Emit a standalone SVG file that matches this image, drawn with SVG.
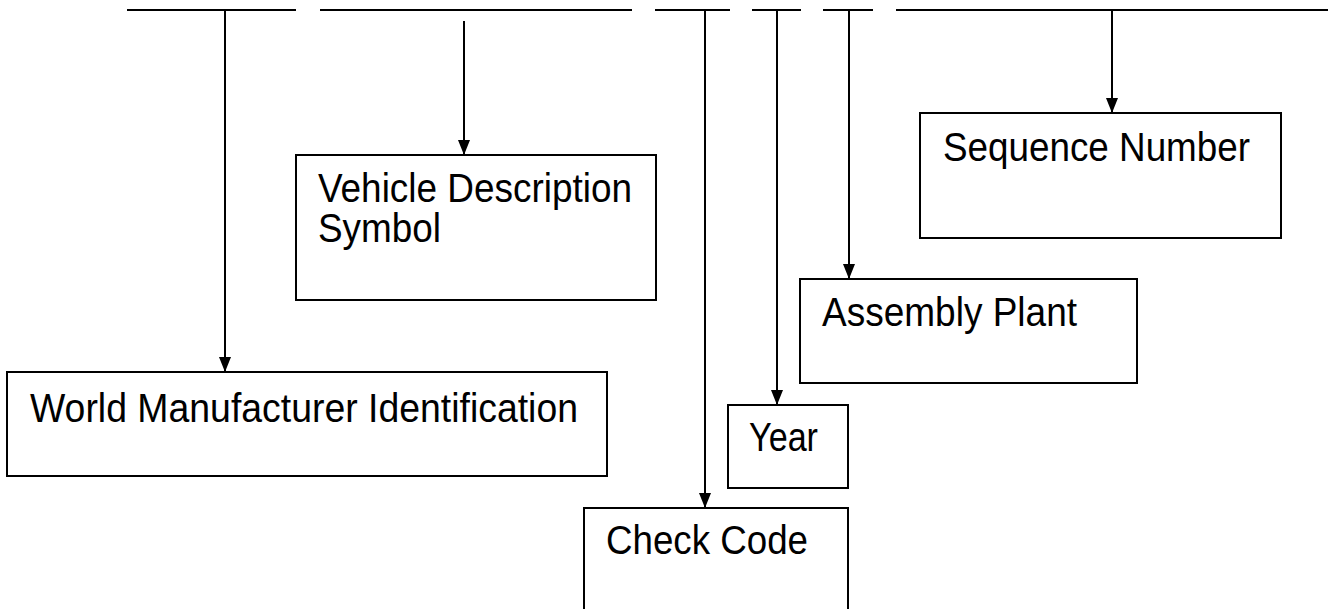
<svg xmlns="http://www.w3.org/2000/svg" width="1328" height="609" viewBox="0 0 1328 609">
<style>
.box{fill:#fff;stroke:#000;stroke-width:2}
.ln{stroke:#000;stroke-width:2;fill:none}
.t{font-family:"Liberation Sans",Arial,sans-serif;font-size:40px;fill:#000}
</style>
<defs>
<marker id="ah" markerWidth="15" markerHeight="12" refX="15" refY="6" orient="auto" markerUnits="userSpaceOnUse" viewBox="0 0 15 12">
<path d="M0,0 L15,6 L0,12 Z" fill="#000"/>
</marker>
</defs>
<rect width="1328" height="609" fill="#fff"/>
<g id="connectors">
<path class="ln" d="M127,10H296M320,10H632M655,10H730M752,10H801M823,10H873M896,10H1328"/>
<line class="ln" x1="225" y1="10" x2="225" y2="372" marker-end="url(#ah)"/>
<line class="ln" x1="464" y1="21" x2="464" y2="155" marker-end="url(#ah)"/>
<line class="ln" x1="705" y1="10" x2="705" y2="508" marker-end="url(#ah)"/>
<line class="ln" x1="777" y1="10" x2="777" y2="405" marker-end="url(#ah)"/>
<line class="ln" x1="849" y1="10" x2="849" y2="279" marker-end="url(#ah)"/>
<line class="ln" x1="1112" y1="10" x2="1112" y2="113" marker-end="url(#ah)"/>
</g>
<g id="wmi">
<rect class="box" x="7" y="372" width="600" height="104"/>
<text class="t" x="30" y="422" textLength="548" lengthAdjust="spacingAndGlyphs">World Manufacturer Identification</text>
</g>
<g id="vds">
<rect class="box" x="296" y="155" width="360" height="145"/>
<text class="t" x="318" y="202" textLength="314" lengthAdjust="spacingAndGlyphs">Vehicle Description</text>
<text class="t" x="318" y="242" textLength="123" lengthAdjust="spacingAndGlyphs">Symbol</text>
</g>
<g id="checkcode">
<rect class="box" x="584" y="508" width="264" height="120"/>
<text class="t" x="606" y="554" textLength="202" lengthAdjust="spacingAndGlyphs">Check Code</text>
</g>
<g id="year">
<rect class="box" x="728" y="405" width="120" height="83"/>
<text class="t" x="749" y="451" textLength="69" lengthAdjust="spacingAndGlyphs">Year</text>
</g>
<g id="assembly">
<rect class="box" x="800" y="279" width="337" height="104"/>
<text class="t" x="822" y="326" textLength="255" lengthAdjust="spacingAndGlyphs">Assembly Plant</text>
</g>
<g id="sequence">
<rect class="box" x="920" y="113" width="361" height="125"/>
<text class="t" x="943" y="161" textLength="307" lengthAdjust="spacingAndGlyphs">Sequence Number</text>
</g>
</svg>
